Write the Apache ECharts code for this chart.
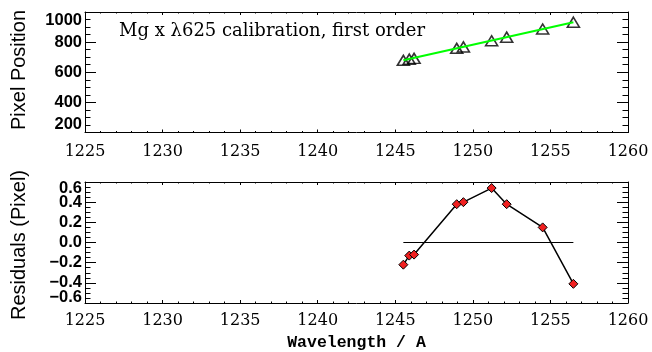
<!DOCTYPE html>
<html>
<head>
<meta charset="utf-8">
<script src="https://cdn.jsdelivr.net/npm/echarts@6/dist/echarts.min.js"></script>
<style>
html,body{margin:0;padding:0;background:#fff;}
#c{width:652px;height:352px;}
</style>
</head>
<body>
<div id="c"></div>
<script>
// ---- data ----
var wavelength = [1245.52, 1245.90, 1246.21, 1248.96, 1249.39, 1251.21, 1252.18, 1254.50, 1256.48];
var pixelPosition = [679, 687, 692, 759, 768, 809, 833, 887, 932];
var fitWavelength = [1245.52, 1256.48];
var fitPixel = [679.2, 932.4];
var residuals = [-0.22, -0.13, -0.12, 0.38, 0.40, 0.54, 0.38, 0.15, -0.41];
var zeroLine = [0, 0];
var xTicks = [1225, 1230, 1235, 1240, 1245, 1250, 1255, 1260];
var residualInnerTicks = [-0.4, -0.2, 0, 0.2, 0.4];
var residualEdgeTicks = [-0.6, 0.6];
var titleText = 'Mg x \u03bb625 calibration, first order';
var xName = 'Wavelength / A';
var yNameTop = 'Pixel Position';
var yNameBottom = 'Residuals (Pixel)';

var chart = echarts.init(document.getElementById('c'), null, {renderer: 'canvas'});

function pairs(xs, ys) { return xs.map(function (x, i) { return [x, ys[i]]; }); }

var serifLabel = {fontFamily: 'DejaVu Serif', fontSize: 16, color: '#000'};
var sansLabel = {fontFamily: 'Liberation Sans', fontSize: 16.5, fontWeight: 'bold', color: '#000'};

function resFmt(v) {
  var s = (Math.abs(v) < 1e-9 ? 0 : v).toFixed(1);
  return s.replace('-', '\u2212');
}

function xAxisPair(gridIndex, margin) {
  var base = {
    type: 'value', gridIndex: gridIndex, min: xTicks[0], max: xTicks[xTicks.length - 1], interval: 5,
    axisLine: {show: true, onZero: false, lineStyle: {color: '#000', width: 1}},
    axisTick: {show: true, inside: true, length: 3, lineStyle: {color: '#000', width: 1}},
    minorTick: {show: true, splitNumber: 5, length: 1.5, lineStyle: {color: '#000', width: 1}},
    splitLine: {show: false}
  };
  var bottom = Object.assign({}, base, {
    position: 'bottom',
    axisLabel: Object.assign({show: true, margin: margin, showMinLabel: true, showMaxLabel: true,
      formatter: function (v) { return String(v); }}, serifLabel)
  });
  var top = Object.assign({}, base, {position: 'top', axisLabel: {show: false}});
  return [bottom, top];
}

function yAxisPair(gridIndex, min, max, interval, labelOpts) {
  var base = {
    type: 'value', gridIndex: gridIndex, min: min, max: max, interval: interval,
    axisLine: {show: true, onZero: false, lineStyle: {color: '#000', width: 1}},
    axisTick: {show: true, inside: true, length: 11, lineStyle: {color: '#000', width: 1}},
    minorTick: {show: true, splitNumber: 4, length: 5.5, lineStyle: {color: '#000', width: 1}},
    splitLine: {show: false}
  };
  var left = Object.assign({}, base, {
    position: 'left',
    axisLabel: Object.assign({show: true, margin: 3}, sansLabel, labelOpts)
  });
  var right = Object.assign({}, base, {position: 'right', axisLabel: {show: false}});
  return [left, right];
}

var xa = xAxisPair(0, 11).concat(xAxisPair(1, 10));
var ya = yAxisPair(0, 200, 1000, 200, {
    formatter: function (v) { return String(Math.round(v)); },
    showMinLabel: true, showMaxLabel: true,
    verticalAlignMaxLabel: 'top', verticalAlignMinLabel: 'bottom'
  })
  .concat(yAxisPair(1, -0.6, 0.6, 0.2, {
    formatter: resFmt, customValues: residualInnerTicks
  }));
// extra label-only axis for the -0.6 / 0.6 edge labels of the residual panel
ya.push({
  type: 'value', gridIndex: 1, position: 'left', min: -0.6, max: 0.6, interval: 0.2,
  axisLine: {show: false}, axisTick: {show: false}, minorTick: {show: false}, splitLine: {show: false},
  axisLabel: Object.assign({show: true, margin: 3, formatter: resFmt, customValues: residualEdgeTicks,
    showMinLabel: true, showMaxLabel: true, lineHeight: 12,
    verticalAlignMaxLabel: 'top', verticalAlignMinLabel: 'bottom'}, sansLabel)
});

var option = {
  animation: false,
  backgroundColor: '#fff',
  grid: [
    {left: 85, top: 12, width: 543, height: 120.5, containLabel: false},
    {left: 85, top: 182, width: 543, height: 121, containLabel: false}
  ],
  xAxis: xa,
  yAxis: ya,
  series: [
    {
      type: 'scatter', name: 'pixel', xAxisIndex: 0, yAxisIndex: 0,
      data: pairs(wavelength, pixelPosition),
      symbol: 'triangle', symbolSize: [12, 10],
      itemStyle: {color: 'rgba(0,0,0,0)', borderColor: '#000', borderWidth: 1.6},
      z: 2
    },
    {
      type: 'line', name: 'fit', xAxisIndex: 0, yAxisIndex: 0,
      data: pairs(fitWavelength, fitPixel),
      showSymbol: false, symbol: 'none',
      lineStyle: {color: '#00ff00', width: 2},
      z: 3
    },
    {
      type: 'line', name: 'zero', xAxisIndex: 2, yAxisIndex: 2,
      data: pairs([wavelength[0], wavelength[wavelength.length - 1]], zeroLine),
      symbol: 'none',
      lineStyle: {color: '#000', width: 1},
      z: 2
    },
    {
      type: 'line', name: 'residuals', xAxisIndex: 2, yAxisIndex: 2,
      data: pairs(wavelength, residuals),
      symbol: 'diamond', symbolSize: 9, showAllSymbol: true,
      lineStyle: {color: '#000', width: 1.5},
      itemStyle: {color: '#f02020', borderColor: '#000', borderWidth: 1},
      z: 3
    }
  ],
  graphic: [
    {type: 'text', x: 119, y: 31, style: {text: titleText, font: '18px "DejaVu Serif"', fill: '#000', align: 'left', verticalAlign: 'middle'}},
    {type: 'text', x: 356.5, y: 343, style: {text: xName, font: 'bold 16.5px "Liberation Mono"', fill: '#000', align: 'center', verticalAlign: 'middle'}},
    {type: 'text', x: 19, y: 70, rotation: Math.PI / 2, style: {text: yNameTop, font: '20px "Liberation Sans"', fill: '#000', align: 'center', verticalAlign: 'middle'}},
    {type: 'text', x: 19, y: 245, rotation: Math.PI / 2, style: {text: yNameBottom, font: '20px "Liberation Sans"', fill: '#000', align: 'center', verticalAlign: 'middle'}}
  ]
};
chart.setOption(option);
</script>
</body>
</html>
